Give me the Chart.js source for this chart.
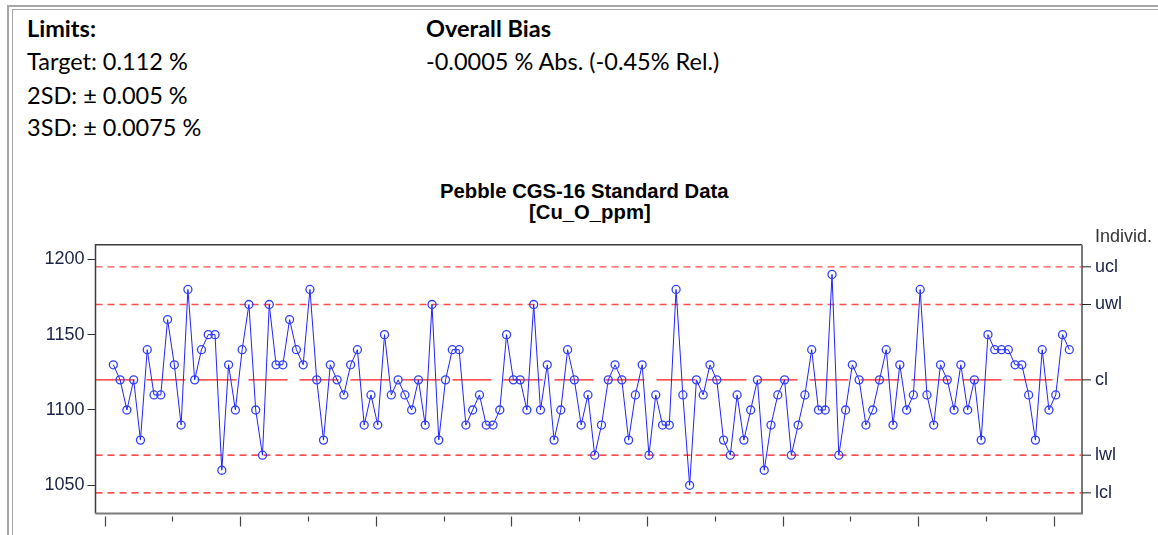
<!DOCTYPE html>
<html>
<head>
<meta charset="utf-8">
<script src="https://cdn.jsdelivr.net/npm/chart.js@4.4.0/dist/chart.umd.min.js"></script>
<style>
  body { margin: 0; width: 1158px; height: 535px; background: #fff; position: relative; overflow: hidden; font-family: Lato, sans-serif; }
  .frame1 { position: absolute; left: 7px; top: 5px; right: -5px; bottom: -5px; border-left: 2px solid #a6a6a6; border-top: 2px solid #a6a6a6; }
  .frame2 { position: absolute; left: 12px; top: 9px; right: -5px; bottom: -5px; border-left: 1px solid #a6a6a6; border-top: 1px solid #a6a6a6; }
  .txt { position: absolute; font-size: 23.5px; color: #000; white-space: nowrap; line-height: 24px; }
  .b { font-weight: bold; }
  .title { position: absolute; font-family: 'Liberation Sans', Arial, sans-serif; font-weight: bold; font-size: 20.3px; white-space: nowrap; line-height: 20px; color: #000; }
  #wrap { position: absolute; left: 0; top: 160px; width: 1158px; height: 375px; }
</style>
</head>
<body>
<div class="frame1"></div>
<div class="frame2"></div>

<div class="txt b" style="left:27px; top:16px;">Limits:</div>
<div class="txt" style="left:27px; top:49px;">Target: 0.112 %</div>
<div class="txt" style="left:27px; top:83px;">2SD: ± 0.005 %</div>
<div class="txt" style="left:27px; top:115px;">3SD: ± 0.0075 %</div>
<div class="txt b" style="left:426px; top:16px;">Overall Bias</div>
<div class="txt" style="left:426px; top:49px;">-0.0005 % Abs. (-0.45% Rel.)</div>

<div class="title" style="left:440px; top:181px;">Pebble CGS-16 Standard Data</div>
<div class="title" style="left:529px; top:202px;">[Cu_O_ppm]</div>

<div id="wrap"><canvas id="myChart" width="1158" height="375"></canvas></div>

<script>
'use strict';

// Cu_O_ppm individual results, in run order
let sampleValues = [
    1130, 1120, 1100, 1120, 1080, 1140, 1110, 1110, 1160, 1130,
    1090, 1180, 1120, 1140, 1150, 1150, 1060, 1130, 1100, 1140,
    1170, 1100, 1070, 1170, 1130, 1130, 1160, 1140, 1130, 1180,
    1120, 1080, 1130, 1120, 1110, 1130, 1140, 1090, 1110, 1090,
    1150, 1110, 1120, 1110, 1100, 1120, 1090, 1170, 1080, 1120,
    1140, 1140, 1090, 1100, 1110, 1090, 1090, 1100, 1150, 1120,
    1120, 1100, 1170, 1100, 1130, 1080, 1100, 1140, 1120, 1090,
    1110, 1070, 1090, 1120, 1130, 1120, 1080, 1110, 1130, 1070,
    1110, 1090, 1090, 1180, 1110, 1050, 1120, 1110, 1130, 1120,
    1080, 1070, 1110, 1080, 1100, 1120, 1060, 1090, 1110, 1120,
    1070, 1090, 1110, 1140, 1100, 1100, 1190, 1070, 1100, 1130,
    1120, 1090, 1100, 1120, 1140, 1090, 1130, 1100, 1110, 1180,
    1110, 1090, 1130, 1120, 1100, 1130, 1100, 1120, 1080, 1150,
    1140, 1140, 1140, 1130, 1130, 1110, 1080, 1140, 1100, 1110,
    1150, 1140
];

let limitNames = ['ucl', 'uwl', 'cl', 'lwl', 'lcl'];
let limitValues = [1195, 1170, 1120, 1070, 1045];
let yTickValues = [1050, 1100, 1150, 1200];
let xTickValues = [-0.3, 9.7, 19.7, 29.7, 39.7, 49.7, 59.7, 69.7, 79.7, 89.7, 99.7, 109.7, 119.7, 129.7, 139.7];

let xMin = -1.63, xMax = 143.87;
let yMin = 1031.3, yMax = 1209.7;

document.addEventListener('DOMContentLoaded', function() {
    drawChart();
});

function limitStyle(name) {
    if (name == 'cl') return { color: '#ff1a1a', dash: [39, 12] };
    if (name == 'ucl' || name == 'uwl') return { color: '#ff4d4d', dash: [7, 5] };
    return { color: '#ff1010', dash: [7, 5] };
}

function drawChart() {
    let datasets = [];
    for (let i = 0; i < limitNames.length; i++) {
        let st = limitStyle(limitNames[i]);
        datasets.push({
            label: limitNames[i],
            data: [{ x: xMin, y: limitValues[i] }, { x: xMax, y: limitValues[i] }],
            borderColor: st.color,
            borderWidth: 1.3,
            borderDash: st.dash,
            pointRadius: 0,
            order: 2
        });
    }
    datasets.push({
        label: 'Individ.',
        data: sampleValues.map(function(v, i) { return { x: i + 1, y: v }; }),
        borderColor: '#2222ff',
        borderWidth: 1,
        pointRadius: 4,
        pointBorderColor: '#2f3fff',
        pointBackgroundColor: 'rgba(255,255,255,0)',
        pointBorderWidth: 1.3,
        order: 1
    });

    let sideLabels = {
        id: 'sideLabels',
        afterDraw: function(chart) {
            let ctx = chart.ctx;
            let area = chart.chartArea;
            let yScale = chart.scales.y;
            let xScale = chart.scales.x;
            ctx.save();

            // plot frame
            ctx.strokeStyle = '#3c3c3c';
            ctx.lineWidth = 1.5;
            ctx.beginPath();
            ctx.moveTo(area.left, area.bottom);
            ctx.lineTo(area.left, area.top);
            ctx.lineTo(area.right, area.top);
            ctx.stroke();
            ctx.strokeStyle = '#7a7a7a';
            ctx.lineWidth = 2;
            ctx.beginPath();
            ctx.moveTo(area.left, area.bottom);
            ctx.lineTo(area.right, area.bottom);
            ctx.lineTo(area.right, area.top);
            ctx.stroke();

            // x ticks, long and short in turn
            ctx.strokeStyle = '#444';
            ctx.lineWidth = 1.2;
            xScale.ticks.forEach(function(t, i) {
                let px = Math.round(xScale.getPixelForValue(t.value)) + 0.5;
                ctx.beginPath();
                ctx.moveTo(px, area.bottom + 3);
                ctx.lineTo(px, area.bottom + (i % 2 == 0 ? 13 : 8));
                ctx.stroke();
            });

            // limit names on the right
            ctx.font = '18px "Liberation Sans", Arial, sans-serif';
            ctx.fillStyle = '#1c2244';
            ctx.textBaseline = 'middle';
            ctx.textAlign = 'left';
            ctx.strokeStyle = '#222';
            ctx.lineWidth = 1;
            for (let i = 0; i < limitNames.length; i++) {
                let py = yScale.getPixelForValue(limitValues[i]);
                ctx.beginPath();
                ctx.moveTo(area.right, py);
                ctx.lineTo(area.right + 9, py);
                ctx.stroke();
                ctx.fillText(limitNames[i], area.right + 13, py);
            }
            ctx.fillStyle = '#333';
            ctx.fillText('Individ.', area.right + 13, area.top - 8);
            ctx.restore();
        }
    };

    let ctx = document.getElementById('myChart').getContext('2d');
    let chart = new Chart(ctx, {
        type: 'line',
        data: { datasets: datasets },
        options: {
            responsive: false,
            animation: false,
            devicePixelRatio: 1,
            layout: { padding: { top: 84.7, right: 76, left: 0, bottom: 0 } },
            plugins: { legend: { display: false }, tooltip: { enabled: false } },
            scales: {
                x: {
                    type: 'linear',
                    min: xMin,
                    max: xMax,
                    afterBuildTicks: function(scale) {
                        scale.ticks = xTickValues.map(function(v) { return { value: v }; });
                    },
                    afterFit: function(scale) { scale.height = 21.5; },
                    ticks: { display: false },
                    grid: { display: false },
                    border: { display: false }
                },
                y: {
                    min: yMin,
                    max: yMax,
                    afterBuildTicks: function(scale) {
                        scale.ticks = yTickValues.map(function(v) { return { value: v }; });
                    },
                    afterFit: function(scale) { scale.width = 95.5; },
                    grid: { drawOnChartArea: false, tickLength: 8, tickColor: '#333', tickWidth: 1 },
                    border: { display: false },
                    ticks: {
                        padding: 3,
                        color: '#1c2244',
                        font: { family: '"Liberation Sans", Arial, sans-serif', size: 18 },
                        callback: function(value) { return String(value); }
                    }
                }
            }
        },
        plugins: [sideLabels]
    });
}
</script>
</body>
</html>
